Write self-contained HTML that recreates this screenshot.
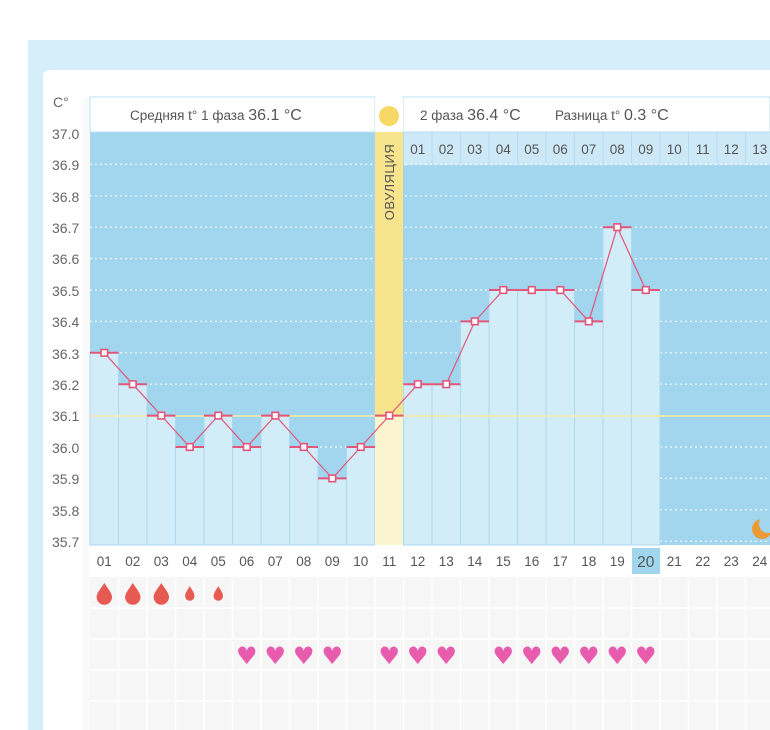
<!DOCTYPE html>
<html><head><meta charset="utf-8"><style>
html,body{margin:0;padding:0;background:#fff;width:770px;height:730px;overflow:hidden}
svg{display:block;font-family:"Liberation Sans","DejaVu Sans",sans-serif}
</style></head><body>
<svg width="770" height="730" viewBox="0 0 770 730" xmlns="http://www.w3.org/2000/svg">
<rect x="28" y="40" width="742" height="690" fill="#d6eef9"/>
<rect x="43" y="70" width="740" height="670" rx="6" fill="#fff"/>
<rect x="83" y="97" width="7" height="633" fill="#fafafa"/>
<!-- chart bg -->
<rect x="90" y="97" width="680" height="448" fill="#a2d6ee"/>
<!-- header -->
<rect x="90" y="97" width="285" height="35" fill="#fff" stroke="#b8e0f3"/>
<rect x="403" y="97" width="367" height="35" fill="#fff" stroke="#b8e0f3"/>
<rect x="375" y="97" width="28" height="35" fill="#fff"/>
<circle cx="389" cy="116" r="10" fill="#f6d866"/>
<text x="130" y="120" font-size="13.5" fill="#555">Средняя t° 1 фаза <tspan font-size="16">36.1 °C</tspan></text>
<text x="420" y="120" font-size="13.5" fill="#555">2 фаза <tspan font-size="16">36.4 °C</tspan></text>
<text x="555" y="120" font-size="13.5" fill="#555">Разница t° <tspan font-size="16">0.3 °C</tspan></text>
<!-- day row right -->
<g fill="#cde9f7" stroke="#b2dcf1" stroke-width="1">
<rect x="403.5" y="132" width="28.5" height="33"/><rect x="432" y="132" width="28.5" height="33"/><rect x="460.5" y="132" width="28.5" height="33"/><rect x="489" y="132" width="28.5" height="33"/><rect x="517.5" y="132" width="28.5" height="33"/><rect x="546" y="132" width="28.5" height="33"/><rect x="574.5" y="132" width="28.5" height="33"/><rect x="603" y="132" width="28.5" height="33"/><rect x="631.5" y="132" width="28.5" height="33"/><rect x="660" y="132" width="28.5" height="33"/><rect x="688.5" y="132" width="28.5" height="33"/><rect x="717" y="132" width="28.5" height="33"/><rect x="745.5" y="132" width="28.5" height="33"/>
</g>
<g font-size="13.5" fill="#555" text-anchor="middle">
<text x="417.8" y="154">01</text><text x="446.3" y="154">02</text><text x="474.8" y="154">03</text><text x="503.3" y="154">04</text><text x="531.8" y="154">05</text><text x="560.3" y="154">06</text><text x="588.8" y="154">07</text><text x="617.3" y="154">08</text><text x="645.8" y="154">09</text><text x="674.3" y="154">10</text><text x="702.8" y="154">11</text><text x="731.3" y="154">12</text><text x="759.8" y="154">13</text>
</g>
<!-- gridlines -->
<g stroke="#fff" stroke-width="1.2" stroke-dasharray="2,3" opacity="0.9">
<line x1="90" x2="770" y1="164.4" y2="164.4"/><line x1="90" x2="770" y1="195.8" y2="195.8"/><line x1="90" x2="770" y1="227.2" y2="227.2"/><line x1="90" x2="770" y1="258.6" y2="258.6"/><line x1="90" x2="770" y1="290" y2="290"/><line x1="90" x2="770" y1="321.4" y2="321.4"/><line x1="90" x2="770" y1="352.8" y2="352.8"/><line x1="90" x2="770" y1="384.2" y2="384.2"/><line x1="90" x2="770" y1="447" y2="447"/><line x1="90" x2="770" y1="478.4" y2="478.4"/><line x1="90" x2="770" y1="509.8" y2="509.8"/><line x1="90" x2="770" y1="541.2" y2="541.2"/>
</g>
<!-- bars -->
<g fill="#d2ecf8" stroke="#aad9f1" stroke-width="1">
<rect x="90" y="352.8" width="28.5" height="192.2"/>
<rect x="118.5" y="384.2" width="28.5" height="160.8"/>
<rect x="147" y="415.6" width="28.5" height="129.4"/>
<rect x="175.5" y="447" width="28.5" height="98"/>
<rect x="204" y="415.6" width="28.5" height="129.4"/>
<rect x="232.5" y="447" width="28.5" height="98"/>
<rect x="261" y="415.6" width="28.5" height="129.4"/>
<rect x="289.5" y="447" width="28.5" height="98"/>
<rect x="318" y="478.4" width="28.5" height="66.6"/>
<rect x="346.5" y="447" width="28.5" height="98"/>
<rect x="403.5" y="384.2" width="28.5" height="160.8"/>
<rect x="432" y="384.2" width="28.5" height="160.8"/>
<rect x="460.5" y="321.4" width="28.5" height="223.6"/>
<rect x="489" y="290" width="28.5" height="255"/>
<rect x="517.5" y="290" width="28.5" height="255"/>
<rect x="546" y="290" width="28.5" height="255"/>
<rect x="574.5" y="321.4" width="28.5" height="223.6"/>
<rect x="603" y="227.2" width="28.5" height="317.8"/>
<rect x="631.5" y="290" width="28.5" height="255"/>
</g>
<!-- ovulation -->
<rect x="375" y="132" width="28" height="283.6" fill="#f8e48c"/>
<rect x="375" y="415.6" width="28" height="129.4" fill="#fbf5cf"/>
<text transform="translate(394,182) rotate(-90)" font-size="13" fill="#555" text-anchor="middle" letter-spacing="0.5">ОВУЛЯЦИЯ</text>
<line x1="90" x2="770" y1="416" y2="416" stroke="#f3eca6" stroke-width="1.5"/>
<!-- moon -->
<circle cx="762" cy="529" r="10" fill="#eb9a37"/>
<circle cx="768" cy="524" r="9" fill="#a2d6ee"/>
<!-- line -->
<g stroke="#e2567a" stroke-width="1.2" fill="none">
<polyline points="104.3,352.8 132.8,384.2 161.3,415.6 189.8,447 218.3,415.6 246.8,447 275.3,415.6 303.8,447 332.3,478.4 360.8,447 389.3,415.6 417.8,384.2 446.3,384.2 474.8,321.4 503.3,290 531.8,290 560.3,290 588.8,321.4 617.3,227.2 645.8,290"/>
</g>
<g stroke="#e2567a" stroke-width="2">
<line x1="90" x2="118.5" y1="352.8" y2="352.8"/><line x1="118.5" x2="147" y1="384.2" y2="384.2"/><line x1="147" x2="175.5" y1="415.6" y2="415.6"/><line x1="175.5" x2="204" y1="447" y2="447"/><line x1="204" x2="232.5" y1="415.6" y2="415.6"/><line x1="232.5" x2="261" y1="447" y2="447"/><line x1="261" x2="289.5" y1="415.6" y2="415.6"/><line x1="289.5" x2="318" y1="447" y2="447"/><line x1="318" x2="346.5" y1="478.4" y2="478.4"/><line x1="346.5" x2="375" y1="447" y2="447"/><line x1="375" x2="403.5" y1="415.6" y2="415.6"/><line x1="403.5" x2="432" y1="384.2" y2="384.2"/><line x1="432" x2="460.5" y1="384.2" y2="384.2"/><line x1="460.5" x2="489" y1="321.4" y2="321.4"/><line x1="489" x2="517.5" y1="290" y2="290"/><line x1="517.5" x2="546" y1="290" y2="290"/><line x1="546" x2="574.5" y1="290" y2="290"/><line x1="574.5" x2="603" y1="321.4" y2="321.4"/><line x1="603" x2="631.5" y1="227.2" y2="227.2"/><line x1="631.5" x2="660" y1="290" y2="290"/>
</g>
<g fill="#fff" stroke="#e2567a" stroke-width="1.6">
<rect x="101" y="349.5" width="6.6" height="6.6"/><rect x="129.5" y="380.9" width="6.6" height="6.6"/><rect x="158" y="412.3" width="6.6" height="6.6"/><rect x="186.5" y="443.7" width="6.6" height="6.6"/><rect x="215" y="412.3" width="6.6" height="6.6"/><rect x="243.5" y="443.7" width="6.6" height="6.6"/><rect x="272" y="412.3" width="6.6" height="6.6"/><rect x="300.5" y="443.7" width="6.6" height="6.6"/><rect x="329" y="475.1" width="6.6" height="6.6"/><rect x="357.5" y="443.7" width="6.6" height="6.6"/><rect x="386" y="412.3" width="6.6" height="6.6"/><rect x="414.5" y="380.9" width="6.6" height="6.6"/><rect x="443" y="380.9" width="6.6" height="6.6"/><rect x="471.5" y="318.1" width="6.6" height="6.6"/><rect x="500" y="286.7" width="6.6" height="6.6"/><rect x="528.5" y="286.7" width="6.6" height="6.6"/><rect x="557" y="286.7" width="6.6" height="6.6"/><rect x="585.5" y="318.1" width="6.6" height="6.6"/><rect x="614" y="223.9" width="6.6" height="6.6"/><rect x="642.5" y="286.7" width="6.6" height="6.6"/>
</g>
<!-- y labels -->
<g font-size="14" fill="#666">
<text x="53" y="107">C°</text>
<text x="52" y="139">37.0</text><text x="52" y="170">36.9</text><text x="52" y="202">36.8</text><text x="52" y="233">36.7</text><text x="52" y="264">36.6</text><text x="52" y="296">36.5</text><text x="52" y="327">36.4</text><text x="52" y="359">36.3</text><text x="52" y="390">36.2</text><text x="52" y="421">36.1</text><text x="52" y="453">36.0</text><text x="52" y="484">35.9</text><text x="52" y="516">35.8</text><text x="52" y="547">35.7</text>
</g>
<!-- x labels -->
<rect x="632" y="548" width="28" height="26" fill="#a2d6ee"/>
<g font-size="13.5" fill="#555" text-anchor="middle">
<text x="104.3" y="566">01</text><text x="132.8" y="566">02</text><text x="161.3" y="566">03</text><text x="189.8" y="566">04</text><text x="218.3" y="566">05</text><text x="246.8" y="566">06</text><text x="275.3" y="566">07</text><text x="303.8" y="566">08</text><text x="332.3" y="566">09</text><text x="360.8" y="566">10</text><text x="389.3" y="566">11</text><text x="417.8" y="566">12</text><text x="446.3" y="566">13</text><text x="474.8" y="566">14</text><text x="503.3" y="566">15</text><text x="531.8" y="566">16</text><text x="560.3" y="566">17</text><text x="588.8" y="566">18</text><text x="617.3" y="566">19</text><text x="645.8" y="567" font-size="15.5">20</text><text x="674.3" y="566">21</text><text x="702.8" y="566">22</text><text x="731.3" y="566">23</text><text x="759.8" y="566">24</text>
</g>
<!-- bottom grid -->
<rect x="90" y="577" width="680" height="153" fill="#f6f6f6"/>
<g stroke="#fff" stroke-width="1.5">
<line x1="90" x2="770" y1="608" y2="608"/><line x1="90" x2="770" y1="639" y2="639"/><line x1="90" x2="770" y1="670" y2="670"/><line x1="90" x2="770" y1="701" y2="701"/>
<line x1="118.5" x2="118.5" y1="577" y2="730"/><line x1="147" x2="147" y1="577" y2="730"/><line x1="175.5" x2="175.5" y1="577" y2="730"/><line x1="204" x2="204" y1="577" y2="730"/><line x1="232.5" x2="232.5" y1="577" y2="730"/><line x1="261" x2="261" y1="577" y2="730"/><line x1="289.5" x2="289.5" y1="577" y2="730"/><line x1="318" x2="318" y1="577" y2="730"/><line x1="346.5" x2="346.5" y1="577" y2="730"/><line x1="375" x2="375" y1="577" y2="730"/><line x1="403.5" x2="403.5" y1="577" y2="730"/><line x1="432" x2="432" y1="577" y2="730"/><line x1="460.5" x2="460.5" y1="577" y2="730"/><line x1="489" x2="489" y1="577" y2="730"/><line x1="517.5" x2="517.5" y1="577" y2="730"/><line x1="546" x2="546" y1="577" y2="730"/><line x1="574.5" x2="574.5" y1="577" y2="730"/><line x1="603" x2="603" y1="577" y2="730"/><line x1="631.5" x2="631.5" y1="577" y2="730"/><line x1="660" x2="660" y1="577" y2="730"/><line x1="688.5" x2="688.5" y1="577" y2="730"/><line x1="717" x2="717" y1="577" y2="730"/><line x1="745.5" x2="745.5" y1="577" y2="730"/>
</g>
<!-- drops -->
<g fill="#e65a52">
<path d="M104.3,583 C108,589 112,593 112,597 A7.7,7.7 0 0 1 96.6,597 C96.6,593 100.6,589 104.3,583Z"/>
<path d="M132.8,583 C136.5,589 140.5,593 140.5,597 A7.7,7.7 0 0 1 125.1,597 C125.1,593 129.1,589 132.8,583Z"/>
<path d="M161.3,583 C165,589 169,593 169,597 A7.7,7.7 0 0 1 153.6,597 C153.6,593 157.6,589 161.3,583Z"/>
<path d="M189.8,586 C192,590 194.5,593 194.5,596 A4.7,4.7 0 0 1 185.1,596 C185.1,593 187.6,590 189.8,586Z"/>
<path d="M218.3,586 C220.5,590 223,593 223,596 A4.7,4.7 0 0 1 213.6,596 C213.6,593 216.1,590 218.3,586Z"/>
</g>
<!-- hearts -->
<g font-size="24" fill="#e85cae" text-anchor="middle" font-family="DejaVu Sans,sans-serif">
<text x="246.8" y="664">♥</text><text x="275.3" y="664">♥</text><text x="303.8" y="664">♥</text><text x="332.3" y="664">♥</text><text x="389.3" y="664">♥</text><text x="417.8" y="664">♥</text><text x="446.3" y="664">♥</text><text x="503.3" y="664">♥</text><text x="531.8" y="664">♥</text><text x="560.3" y="664">♥</text><text x="588.8" y="664">♥</text><text x="617.3" y="664">♥</text><text x="645.8" y="664">♥</text>
</g>
</svg>
</body></html>
